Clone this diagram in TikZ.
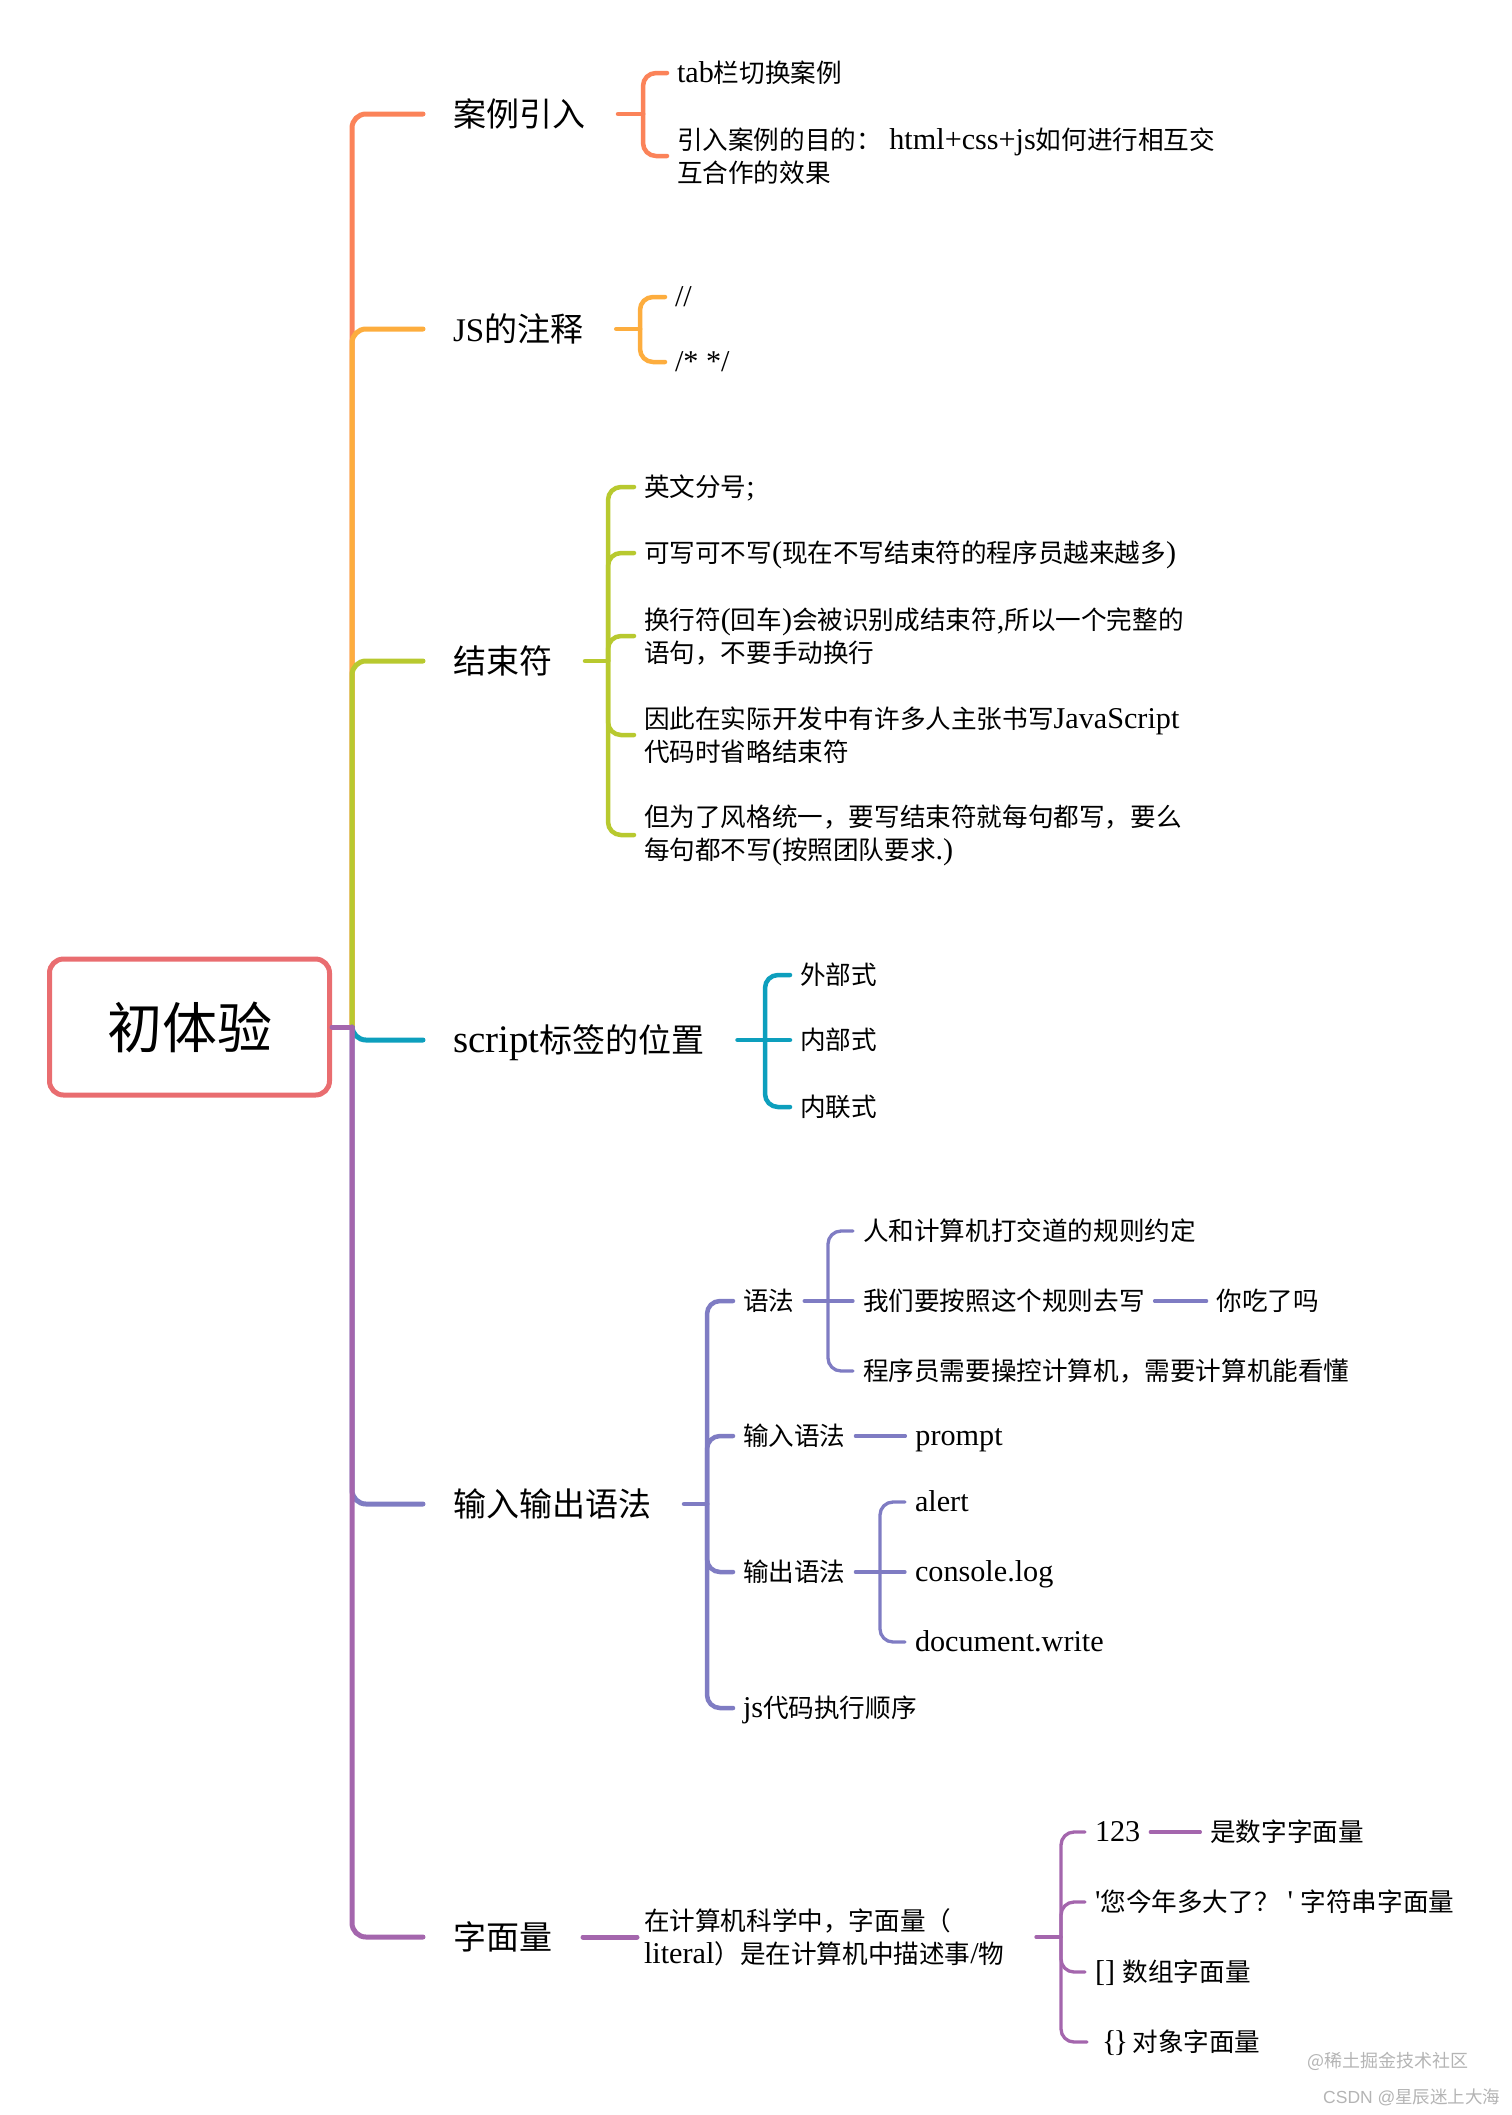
\documentclass[tikz,border=0pt]{standalone}
\usepackage{fontspec}
\setmainfont{Liberation Serif}[Scale=1.18]
\newfontfamily\cjk{Noto Sans CJK SC}
\newfontfamily\marksans{Liberation Sans}
\usetikzlibrary{positioning}

\definecolor{rootred}{HTML}{E96D70}
\definecolor{casecoral}{HTML}{FB8359}
\definecolor{noteamber}{HTML}{FDAD3E}
\definecolor{endolive}{HTML}{B8C92F}
\definecolor{placeteal}{HTML}{0D9FBD}
\definecolor{syntaxslate}{HTML}{7F7CC3}
\definecolor{literalplum}{HTML}{A466AD}
\definecolor{markgray}{HTML}{B4B4B4}

\tikzset{
  rootbox/.style={draw=rootred, line width=5pt, rounded corners=14pt, minimum width=280pt, minimum height=136pt, font=\fontsize{55}{60}\selectfont\cjk},
  topic/.style={anchor=west, inner xsep=30pt, inner ysep=0pt, outer sep=0pt, font=\fontsize{33}{38}\selectfont, text height=29pt, text depth=4pt},
  leaf/.style={anchor=west, inner xsep=10pt, inner ysep=0pt, outer sep=0pt, font=\fontsize{25.6}{33}\selectfont, text height=22.5pt, text depth=3pt},
  wrapleaf/.style={anchor=west, inner xsep=10pt, inner ysep=0pt, outer sep=0pt, font=\fontsize{25.6}{33}\selectfont, align=left},
  limb/.style={line width=5pt, line cap=round, rounded corners=14pt},
  bough/.style={line width=4.5pt, line cap=round, rounded corners=13pt},
  twig/.style={line width=3.3pt, line cap=round, rounded corners=13pt}
}

\begin{document}
\begin{tikzpicture}[x=1pt, y=-1pt]
  \useasboundingbox (0,0) rectangle (1512,2115);

  \node [rootbox] (root) at (189.5,1027) {初体验\hspace{5pt}};
  \coordinate (trunk) at (352,1027);

  \node [topic] (case) at (423,114) {{\cjk 案例引入}};
  \node [topic] (note) at (423,329) {{\fontsize{28}{38}\selectfont JS}{\cjk 的注释}};
  \node [topic] (finish) at (423,661) {{\cjk 结束符}};
  \node [topic] (place) at (423,1040) {script{\cjk 标签的位置}};
  \node [topic] (syntax) at (423,1504) {{\cjk 输入输出语法}};
  \node [topic] (literal) at (423,1937) {{\cjk 字面量}};

  \coordinate (caseJ) at (643,114);
  \node [leaf] (tab) at (667,73) {tab{\cjk 栏切换案例}};
  \node [wrapleaf] (goal) at (667,156) {{\cjk 引入案例的目的：} html+css+js{\cjk 如何进行相互交}\\{\cjk 互合作的效果}};

  \coordinate (noteJ) at (640,329);
  \node [leaf] (lineC) at (665,297) {//};
  \node [leaf] (blockC) at (665,362) {/* */};

  \coordinate (finishJ) at (608,661);
  \node [leaf] (semi) at (634,487) {{\cjk 英文分号};};
  \node [leaf] (opt) at (634,553) {{\cjk 可写可不写}({\cjk 现在不写结束符的程序员越来越多})};
  \node [wrapleaf] (newline) at (634,636) {{\cjk 换行符}({\cjk 回车}){\cjk 会被识别成结束符},{\cjk 所以一个完整的}\\{\cjk 语句，不要手动换行}};
  \node [wrapleaf] (omit) at (634,735) {{\cjk 因此在实际开发中有许多人主张书写}JavaScript\\{\cjk 代码时省略结束符}};
  \node [wrapleaf] (unify) at (634,835) {{\cjk 但为了风格统一，要写结束符就每句都写，要么}\\{\cjk 每句都不写}({\cjk 按照团队要求}.)};

  \coordinate (placeJ) at (765,1040);
  \node [leaf] (outer) at (790,975) {{\cjk 外部式}};
  \node [leaf] (inner) at (790,1040) {{\cjk 内部式}};
  \node [leaf] (inline) at (790,1107) {{\cjk 内联式}};

  \coordinate (syntaxJ) at (707,1504);
  \node [leaf] (rules) at (733,1301) {{\cjk 语法}};
  \node [leaf] (inputs) at (733,1436) {{\cjk 输入语法}};
  \node [leaf] (outputs) at (733,1572) {{\cjk 输出语法}};
  \node [leaf] (order) at (733,1708) {js{\cjk 代码执行顺序}};

  \coordinate (rulesJ) at (828,1301);
  \node [leaf] (deal) at (853,1231) {{\cjk 人和计算机打交道的规则约定}};
  \node [leaf] (write) at (853,1301) {{\cjk 我们要按照这个规则去写}};
  \node [leaf] (see) at (853,1371) {{\cjk 程序员需要操控计算机，需要计算机能看懂}};
  \node [leaf, right=52pt of write] (eaten) {{\cjk 你吃了吗}};

  \node [leaf, right=50pt of inputs] (prompt) {prompt};

  \coordinate (outputsJ) at (880,1572);
  \node [leaf] (alert) at (905,1502) {alert};
  \node [leaf] (console) at (905,1572) {console.log};
  \node [leaf] (docwrite) at (905,1642) {document.write};

  \node [wrapleaf] (meaning) at (634,1937) {{\cjk 在计算机科学中，字面量（}\\literal{\cjk ）是在计算机中描述事}/{\cjk 物}};
  \coordinate (meaningS) at (1036,1937);
  \coordinate (meaningJ) at (1061,1937);
  \node [leaf] (num) at (1085,1832) {123};
  \node [leaf, right=50pt of num] (numtext) {{\cjk 是数字字面量}};
  \node [leaf] (str) at (1085,1902) {\textquotesingle{\cjk 您今年多大了？}\kern8pt\textquotesingle\ {\cjk 字符串字面量}};
  \node [leaf] (arr) at (1085,1972) {[] {\cjk 数组字面量}};
  \node [leaf] (obj) at (1092,2042) {\{\kern-3pt\}\kern-3pt{} {\cjk 对象字面量}};
  \coordinate (objE) at (1087,2042);

  \node [anchor=west, inner sep=0pt, text=markgray, font=\fontsize{18}{22}\selectfont\cjk] (markA) at (1307,2061) {@稀土掘金技术社区};
  \node [anchor=west, inner sep=0pt, text=markgray, font=\fontsize{17.5}{22}\selectfont\marksans] (markB) at (1323,2097) {CSDN @{\cjk 星辰迷上大海}};

  \draw [limb, casecoral] (trunk) |- (case.west);
  \draw [limb, noteamber] (trunk) |- (note.west);
  \draw [limb, endolive] (trunk) |- (finish.west);
  \draw [limb, placeteal] (trunk) |- (place.west);
  \draw [limb, syntaxslate] (trunk) |- (syntax.west);
  \draw [limb, literalplum] (trunk) |- (literal.west);
  \draw [limb, literalplum] (root.east) -- (trunk);

  \draw [bough, casecoral, shorten <=3pt] (case.east) -- (caseJ);
  \draw [bough, casecoral] (caseJ) |- (tab.west);
  \draw [bough, casecoral] (caseJ) |- (goal.west);

  \draw [bough, noteamber, shorten <=3pt] (note.east) -- (noteJ);
  \draw [bough, noteamber] (noteJ) |- (lineC.west);
  \draw [bough, noteamber] (noteJ) |- (blockC.west);

  \draw [bough, endolive, shorten <=3pt] (finish.east) -- (finishJ);
  \draw [bough, endolive] (finishJ) |- (semi.west);
  \draw [bough, endolive] (finishJ) |- (opt.west);
  \draw [bough, endolive] (finishJ) |- (newline.west);
  \draw [bough, endolive] (finishJ) |- (omit.west);
  \draw [bough, endolive] (finishJ) |- (unify.west);

  \draw [bough, placeteal, shorten <=3pt] (place.east) -- (placeJ);
  \draw [bough, placeteal] (placeJ) |- (outer.west);
  \draw [bough, placeteal] (placeJ) -- (inner.west);
  \draw [bough, placeteal] (placeJ) |- (inline.west);

  \draw [bough, syntaxslate, shorten <=3pt] (syntax.east) -- (syntaxJ);
  \draw [bough, syntaxslate] (syntaxJ) |- (rules.west);
  \draw [bough, syntaxslate] (syntaxJ) |- (inputs.west);
  \draw [bough, syntaxslate] (syntaxJ) |- (outputs.west);
  \draw [bough, syntaxslate] (syntaxJ) |- (order.west);

  \draw [twig, syntaxslate] (rules.east) -- (rulesJ);
  \draw [twig, syntaxslate] (rulesJ) |- (deal.west);
  \draw [twig, syntaxslate] (rulesJ) -- (write.west);
  \draw [twig, syntaxslate] (rulesJ) |- (see.west);
  \draw [twig, syntaxslate] (write.east) -- (eaten.west);
  \draw [twig, syntaxslate] (inputs.east) -- (prompt.west);

  \draw [twig, syntaxslate] (outputs.east) -- (outputsJ);
  \draw [twig, syntaxslate] (outputsJ) |- (alert.west);
  \draw [twig, syntaxslate] (outputsJ) -- (console.west);
  \draw [twig, syntaxslate] (outputsJ) |- (docwrite.west);

  \draw [limb, literalplum, shorten <=1pt, shorten >=-3pt] (literal.east) -- (meaning.west);
  \draw [twig, literalplum] (meaningS) -- (meaningJ);
  \draw [twig, literalplum] (meaningJ) |- (num.west);
  \draw [twig, literalplum] (num.east) -- (numtext.west);
  \draw [twig, literalplum] (meaningJ) |- (str.west);
  \draw [twig, literalplum] (meaningJ) |- (arr.west);
  \draw [twig, literalplum] (meaningJ) |- (objE);
\end{tikzpicture}
\end{document}
